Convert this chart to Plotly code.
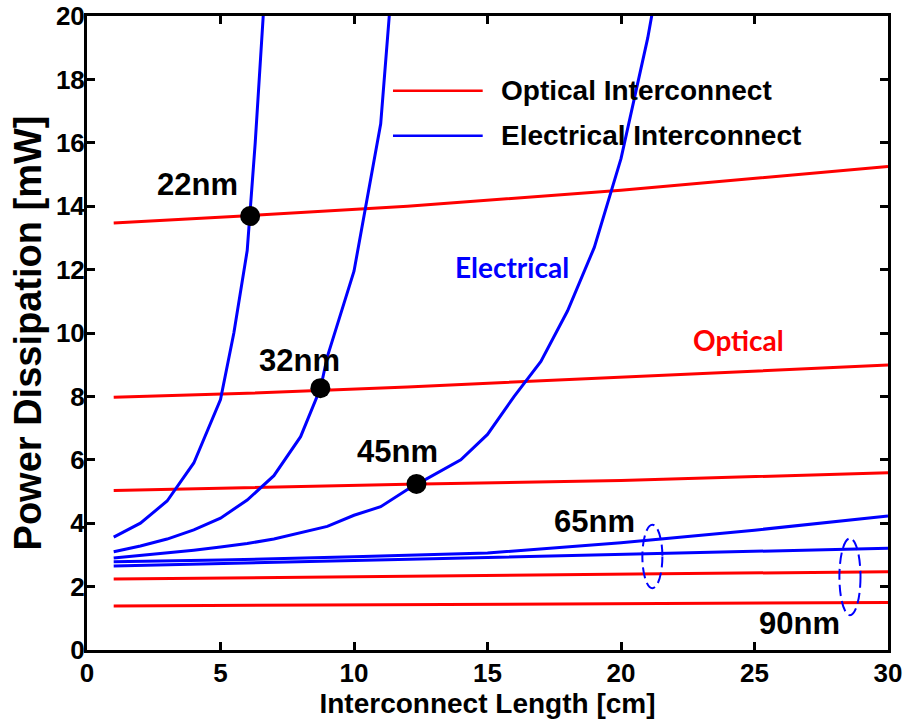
import plotly.graph_objects as go

# ---------------- data ----------------
# Electrical interconnect power [mW] vs length [cm]
x_e22 = [1, 2, 3, 4, 5, 5.5, 6, 6.3, 6.6, 7]
y_e22 = [3.56, 4.0, 4.7, 5.9, 7.9, 10.0, 12.6, 16.0, 20.0, 25.0]

x_e32 = [1, 2, 3, 4, 5, 6, 7, 8, 8.75, 9, 10, 11, 12]
y_e32 = [3.1, 3.28, 3.5, 3.79, 4.16, 4.73, 5.5, 6.73, 8.27, 9.25, 11.95, 16.6, 27.2]

x_e45 = list(range(1, 23))
y_e45 = [2.9, 2.98, 3.07, 3.15, 3.25, 3.36, 3.5, 3.7, 3.9, 4.25, 4.52, 5.06,
         5.54, 6.0, 6.8, 8.0, 9.1, 10.7, 12.7, 15.5, 19.3, 24.0]

x_e65 = [1, 5, 10, 15, 20, 25, 30]
y_e65 = [2.78, 2.84, 2.94, 3.06, 3.38, 3.78, 4.23]

x_e90 = [1, 5, 10, 15, 20, 25, 30]
y_e90 = [2.65, 2.72, 2.82, 2.92, 3.01, 3.11, 3.21]

# Optical interconnect power [mW]
x_opt = [1, 6, 12, 20, 30]
y_o22 = [13.47, 13.7, 14.0, 14.5, 15.25]
y_o32 = [7.97, 8.1, 8.3, 8.6, 8.99]
y_o45 = [5.03, 5.12, 5.23, 5.35, 5.59]
y_o65 = [2.24, 2.28, 2.32, 2.38, 2.47]
y_o90 = [1.39, 1.41, 1.44, 1.46, 1.50]

# Crossover points
x_cross = [6.11, 8.74, 12.34]
y_cross = [13.69, 8.26, 5.24]

# Node labels
node_labels = ["22nm", "32nm", "45nm", "65nm", "90nm"]
node_lx = [4.12, 7.95, 11.64, 19.0, 26.7]
node_ly = [14.7, 9.12, 6.25, 4.04, 0.85]

x_ticks = [0, 5, 10, 15, 20, 25, 30]
y_ticks = [0, 2, 4, 6, 8, 10, 12, 14, 16, 18, 20]

RED = "#FF0000"
BLUE = "#0000FF"
FONT = "Liberation Sans, Arial, sans-serif"

fig = go.Figure()

for xs, ys in [(x_opt, y_o22), (x_opt, y_o32), (x_opt, y_o45), (x_opt, y_o65), (x_opt, y_o90)]:
    fig.add_trace(go.Scatter(x=xs, y=ys, mode="lines", line=dict(color=RED, width=3),
                             name="Optical Interconnect", showlegend=False))

for xs, ys in [(x_e22, y_e22), (x_e32, y_e32), (x_e45, y_e45), (x_e65, y_e65), (x_e90, y_e90)]:
    fig.add_trace(go.Scatter(x=xs, y=ys, mode="lines", line=dict(color=BLUE, width=3),
                             name="Electrical Interconnect", showlegend=False))

fig.add_trace(go.Scatter(x=x_cross, y=y_cross, mode="markers",
                         marker=dict(color="black", size=20), showlegend=False))

# node labels
for t, lx, ly in zip(node_labels, node_lx, node_ly):
    fig.add_annotation(x=lx, y=ly, text=t, showarrow=False,
                       font=dict(family=FONT, size=31, color="black", weight="bold"))

fig.add_annotation(x=15.9, y=12.08, text="Electrical", showarrow=False,
                   font=dict(family="Lato, sans-serif", size=28, color=BLUE, weight="bold"))
fig.add_annotation(x=24.4, y=9.78, text="Optical", showarrow=False,
                   font=dict(family="Lato, sans-serif", size=28, color=RED, weight="bold"))

# dashed ellipses grouping 65nm and 90nm
fig.add_shape(type="circle", xref="x", yref="y", x0=20.8, x1=21.55, y0=1.95, y1=3.95,
              line=dict(color=BLUE, width=2, dash="11px,5px"))
fig.add_shape(type="circle", xref="x", yref="y", x0=28.18, x1=28.97, y0=1.1, y1=3.52,
              line=dict(color=BLUE, width=2, dash="11px,5px"))

# legend (drawn)
legend_items = [("Optical Interconnect", RED), ("Electrical Interconnect", BLUE)]
leg_y = [0.882, 0.811]
for (lab, col), ly in zip(legend_items, leg_y):
    fig.add_shape(type="line", xref="paper", yref="paper", x0=0.382, x1=0.494, y0=ly, y1=ly,
                  line=dict(color=col, width=2.5))
    fig.add_annotation(xref="paper", yref="paper", x=0.514, y=ly, text=lab, showarrow=False,
                       xanchor="left", yanchor="middle",
                       font=dict(family=FONT, size=28, color="black", weight="bold"))

axis_common = dict(showgrid=False, zeroline=False, showline=True, linecolor="black", linewidth=3,
                   mirror="ticks", ticks="inside", ticklen=8, tickwidth=2.5, tickcolor="black",
                   automargin=False, ticklabeloverflow="allow",
                   tickfont=dict(family=FONT, size=26, color="black", weight="bold"))

fig.update_xaxes(range=[0, 30], tickvals=x_ticks, ticklabelstandoff=-2,
                 title=dict(text="Interconnect Length [cm]", standoff=0,
                            font=dict(family=FONT, size=28, color="black", weight="bold")),
                 **axis_common)
fig.update_yaxes(range=[0, 20], tickvals=y_ticks, ticklabelstandoff=-6,
                 title=dict(text="Power Dissipation [mW]", standoff=3,
                            font=dict(family=FONT, size=38, color="black", weight="bold")),
                 **axis_common)

fig.update_layout(width=907, height=721, margin=dict(l=87, r=19, t=16, b=71),
                  plot_bgcolor="white", paper_bgcolor="white", showlegend=False)

# remove the default 8px page margin so the figure sits at the window's top-left corner
fig.write_html("out.html", config={"displayModeBar": False},
               post_script="document.body.style.margin='0';document.body.style.overflow='hidden';")
